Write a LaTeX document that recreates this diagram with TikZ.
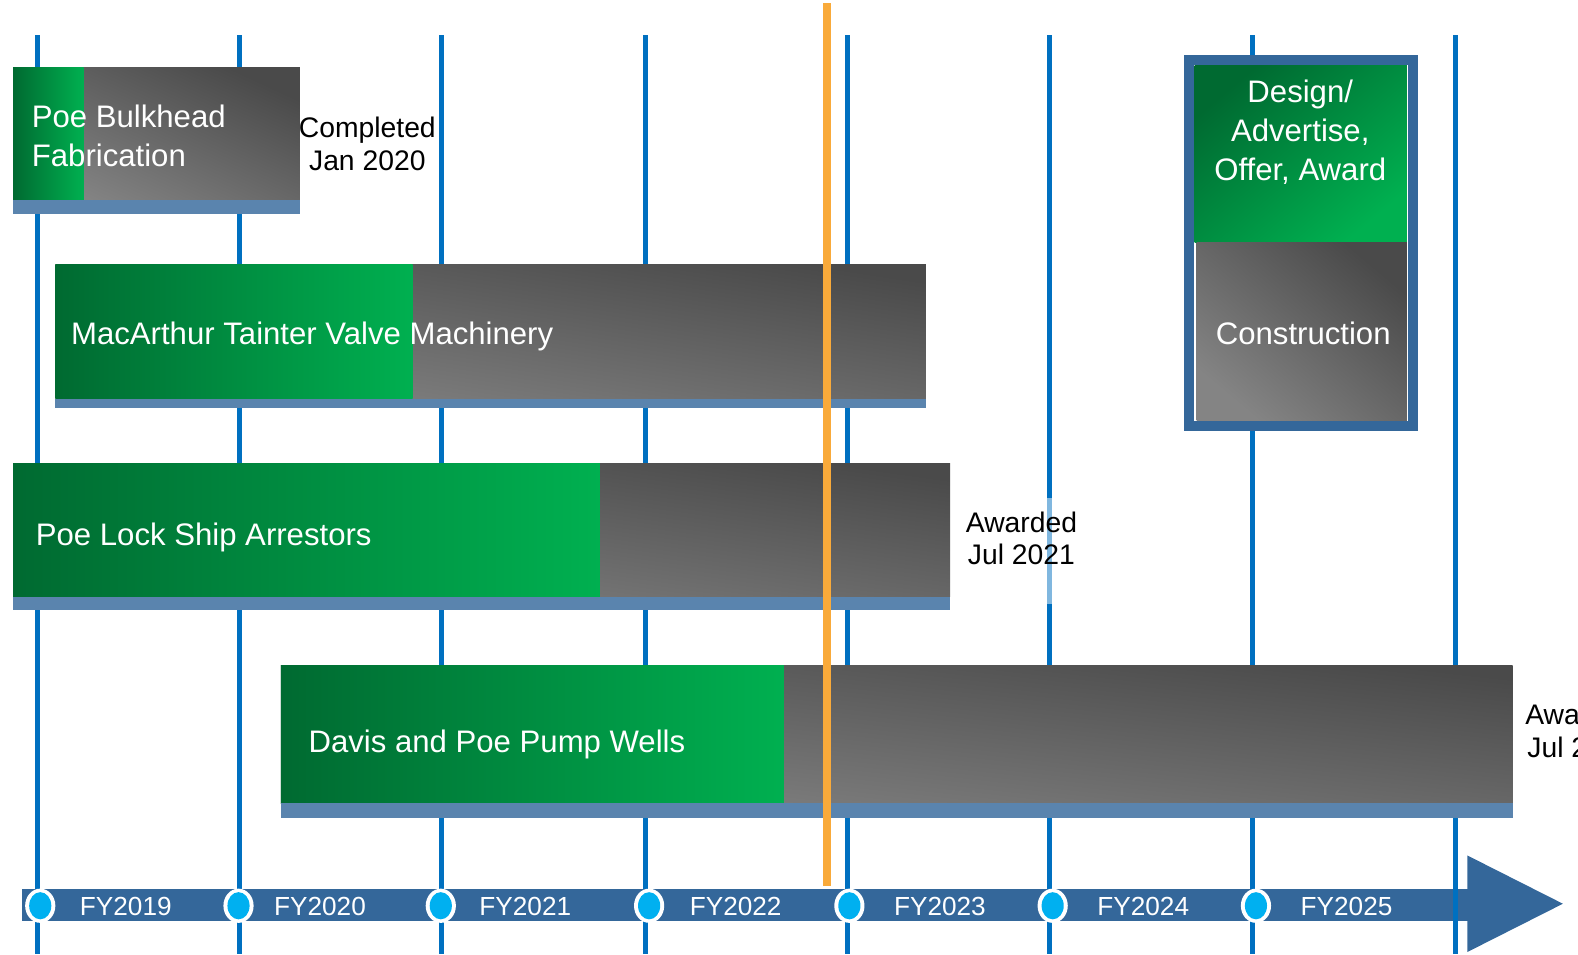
\documentclass[tikz,border=0pt]{standalone}
\usepackage{fontspec}
\setmainfont{Liberation Sans}
\usepackage{tikz}
\definecolor{yrblue}{HTML}{0070C0}
\definecolor{nowline}{HTML}{F9AA3A}
\definecolor{axisblue}{HTML}{34679A}
\definecolor{stripblue}{HTML}{5A84AE}
\definecolor{dotcyan}{HTML}{00B0F0}
\definecolor{greendark}{HTML}{006A31}
\definecolor{greenlight}{HTML}{00B050}
\definecolor{greydark}{HTML}{4A4A4A}
\definecolor{greylight}{HTML}{848484}
\tikzset{yline/.style={draw=yrblue,line width=0.5mm}}
\tikzset{today/.style={draw=nowline,line width=0.8mm}}
\tikzset{greyfill/.style={top color=greydark,bottom color=greylight,shading angle=#1}}
\tikzset{greenfill/.style={left color=greendark,right color=greenlight}}
\tikzset{greendiag/.style={top color=greendark,bottom color=greenlight,shading angle=#1}}
\tikzset{bartext/.style={text=white,font=\fontsize{8.8}{10.8}\selectfont,anchor=west,align=left,inner sep=0pt}}
\tikzset{legtext/.style={text=white,font=\fontsize{8.8}{11}\selectfont,align=center,inner sep=0pt}}
\tikzset{notetext/.style={text=black,font=\fontsize{8}{9.2}\selectfont,align=center,inner sep=0pt}}
\tikzset{fytext/.style={text=white,font=\fontsize{7.4}{8}\selectfont,inner sep=0pt}}

\begin{document}
\begin{tikzpicture}[x=0.1mm,y=-0.1mm]
    \useasboundingbox (0,0) rectangle (1568,948);

    % year lines
    \foreach \x in {37,238,439,641,842,1043,1245}{
      \draw[yline] (\x,35) -- (\x,948);
    }

    % time axis
    \fill[axisblue] (22,883) rectangle (1460,915);
    \fill[axisblue] (1458,850) -- (1553,898) -- (1458,946) -- cycle;
    \draw[yline] (1446,35) -- (1446,948);

    % project bars
    \foreach \xa/\ya/\xb/\yb/\xg/\ys in {13/67/298/199/83/213, 55/263/920/396/410/405,
        13/461/944/593/596/606, 279/661/1503/798/779/813}{
      \pgfmathsetmacro\ang{-atan((\yb-\ya)/(\xb-\xa))}
      \shade[greyfill=\ang] (\xa,\ya) rectangle (\xb,\yb);
      \shade[greenfill] (\xa,\ya) rectangle (\xg,\yb);
      \fill[stripblue] (\xa,\yb) rectangle (\xb,\ys);
    }

    % legend
    \shade[greendiag=40] (1187,65) rectangle (1398,241);
    \shade[greyfill=-40] (1189,241) rectangle (1398,418);
    \draw[axisblue,line width=1mm] (1181,60) rectangle (1404,423);

    % today
    \draw[today] (822,3) -- (822,880);

    % year marks
    \foreach \xc in {40,237,438,645,844,1046,1248}{
      \fill[white] (\xc,900) ellipse (1.5mm and 1.7mm);
      \fill[dotcyan] (\xc,900) ellipse (1.1mm and 1.35mm);
    }
    \foreach \yr/\xl in {2019/125,2020/318,2021/522,2022/731,2023/934,2024/1136,2025/1338}{
      \node[fytext] (fy\yr) at (\xl,901) {FY\yr};
    }

    \node[bartext] (poe) at (31,135) {Poe Bulkhead\\Fabrication};
    \node[bartext] (mac) at (70,334) {MacArthur Tainter Valve Machinery};
    \node[bartext] (lock) at (35,534) {Poe Lock Ship Arrestors};
    \node[bartext] (davis) at (306,740) {Davis and Poe Pump Wells};

    \node[notetext] (done) at (365,143) {Completed\\Jan 2020};
    \fill[white,opacity=0.5] (1039,495) rectangle (1048,600);
    \node[notetext] (award1) at (1015,535) {Awarded\\Jul 2021};
    \node[notetext,anchor=west] (award2) at (1515,726) {Awarded\\Jul 2021};

    \node[legtext] (design) at (1292,131) {Design/\\Advertise,\\Offer, Award};
    \node[legtext] (constr) at (1295,331) {Construction};

\end{tikzpicture}
\end{document}
